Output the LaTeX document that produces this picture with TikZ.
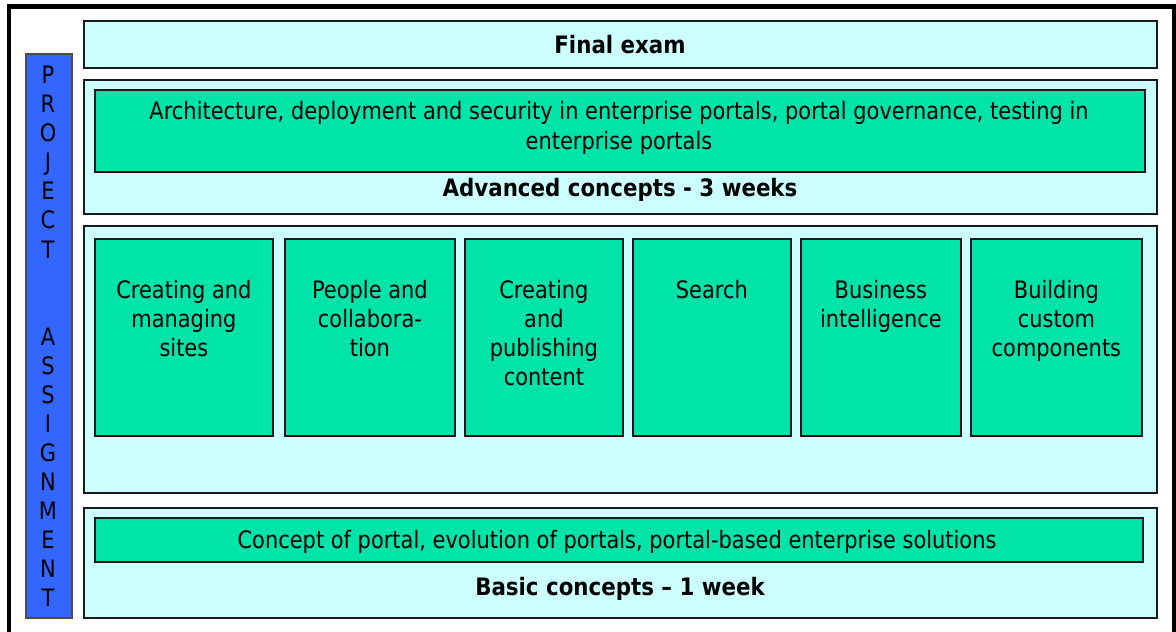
\documentclass[tikz,border=0pt]{standalone}
\usepackage{fontspec}
\setmainfont{DejaVu Sans}[FakeStretch=0.873, BoldFeatures={FakeStretch=0.89}]
\definecolor{lcyan}{HTML}{CCFFFF}
\definecolor{tgreen}{HTML}{00E4AA}
\definecolor{pblue}{HTML}{3366FF}
\definecolor{edge}{HTML}{1A1A1A}
\begin{document}
\begin{tikzpicture}[x=1pt,y=-1pt,
  panel/.style={draw=edge, line width=1.8pt, fill=lcyan, anchor=north west, inner sep=0pt},
  module/.style={draw=edge, line width=1.8pt, fill=tgreen, anchor=north west, inner sep=0pt},
  bar/.style={draw=black!70, line width=1.5pt, fill=pblue, anchor=north west, inner sep=0pt},
  body/.style={font=\fontsize{24}{29}\selectfont, align=center, inner sep=0pt},
  title/.style={font=\fontsize{24}{29}\selectfont\bfseries, inner sep=0pt}
]
\useasboundingbox (0,0) rectangle (1176,632);
\fill[white] (0,0) rectangle (1176,632);
\draw[line width=4.5pt] (9,645) -- (9,6.7) -- (1174,6.7) -- (1174,645);

% project assignment bar
\node[bar, minimum width=46pt, minimum height=564pt] (proj) at (25,53) {};
\node[body, anchor=north, font=\fontsize{24}{29.05}\selectfont] (projtext) at (48,66)
  {P\\R\\O\\J\\E\\C\\T\\ \\ \\A\\S\\S\\I\\G\\N\\M\\E\\N\\T};

% final exam
\node[panel, minimum width=1073pt, minimum height=47pt] (final) at (83,20) {};
\node[title] (finaltext) at (620,45) {Final exam};

% advanced
\node[panel, minimum width=1073pt, minimum height=134pt] (adv) at (83,79) {};
\node[module, minimum width=1050pt, minimum height=82pt] (arch) at (94,89) {};
\node[body, font=\fontsize{24}{30}\selectfont] (archtext) at (619,128)
  {Architecture, deployment and security in enterprise portals, portal governance, testing in\\enterprise portals};
\node[title] (advtext) at (620,189.5) {Advanced concepts - 3 weeks};

% middle
\node[panel, minimum width=1073pt, minimum height=267pt] (mid) at (83,225) {};
\node[module, minimum width=178pt, minimum height=197pt] (m1) at (94,238) {};
\node[module, minimum width=170pt, minimum height=197pt] (m2) at (284,238) {};
\node[module, minimum width=158pt, minimum height=197pt] (m3) at (464,238) {};
\node[module, minimum width=158pt, minimum height=197pt] (m4) at (632,238) {};
\node[module, minimum width=160pt, minimum height=197pt] (m5) at (800,238) {};
\node[module, minimum width=171pt, minimum height=197pt] (m6) at (970,238) {};
\node[body, anchor=north] (t1) at (m1.center |- 0,280) {Creating and\\managing\\sites};
\node[body, anchor=north] (t2) at (m2.center |- 0,280) {People and\\collabora-\\tion};
\node[body, anchor=north] (t3) at (m3.center |- 0,280) {Creating\\and\\publishing\\content};
\node[body, anchor=north] (t4) at (m4.center |- 0,280) {Search};
\node[body, anchor=north] (t5) at (m5.center |- 0,280) {Business\\intelligence};
\node[body, anchor=north] (t6) at (m6.center |- 0,280) {Building\\custom\\components};

% basic
\node[panel, minimum width=1073pt, minimum height=110pt] (basic) at (83,507) {};
\node[module, minimum width=1048pt, minimum height=44pt] (concept) at (94,517) {};
\node[body] (concepttext) at (617,541.5) {Concept of portal, evolution of portals, portal-based enterprise solutions};
\node[title] (basictext) at (620,588.5) {Basic concepts – 1 week};
\end{tikzpicture}
\end{document}
